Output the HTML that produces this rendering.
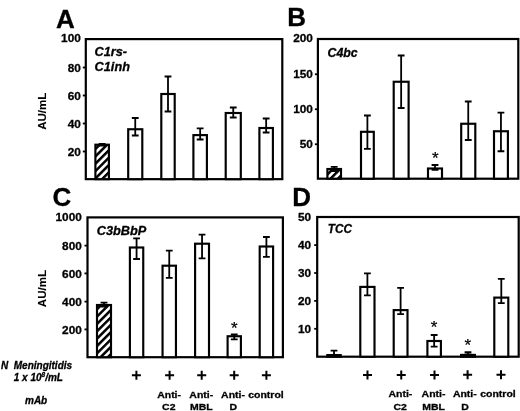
<!DOCTYPE html>
<html><head><meta charset="utf-8"><title>Figure</title>
<style>
html,body{margin:0;padding:0;background:#fff;}
body{width:520px;height:411px;overflow:hidden;font-family:"Liberation Sans", sans-serif;}
svg{display:block;filter:blur(0.3px);}
text{font-family:"Liberation Sans", sans-serif;fill:#000;stroke:#000;stroke-width:0.3px;}
.tk{font-size:11.8px;font-weight:bold;}
.ti{font-size:12px;font-weight:bold;font-style:italic;}
.lt{font-size:26px;font-weight:bold;}
.yl{font-size:11.5px;font-weight:bold;stroke-width:0.1px;}
.lb{font-size:9.8px;font-weight:bold;}
.bl{font-size:10px;font-weight:bold;font-style:italic;}
.st{font-size:17px;font-weight:normal;stroke-width:0.25px;}
</style></head>
<body>
<svg width="520" height="411" viewBox="0 0 520 411">
<defs>
<pattern id="hatch" patternUnits="userSpaceOnUse" width="5.2" height="5.2" patternTransform="rotate(45)">
<rect width="5.2" height="5.2" fill="#fff"/>
<rect width="2.5" height="5.2" fill="#000"/>
</pattern>
</defs>
<rect width="520" height="411" fill="#fff"/>
<rect x="85.8" y="39.1" width="196.5" height="140.05" fill="none" stroke="#000" stroke-width="2.2"/>
<text x="80.8" y="42.300000000000004" text-anchor="end" class="tk">100</text>
<line x1="82.8" y1="67.5" x2="85.8" y2="67.5" stroke="#000" stroke-width="1.8"/>
<text x="80.8" y="71.6" text-anchor="end" class="tk">80</text>
<line x1="82.8" y1="95.5" x2="85.8" y2="95.5" stroke="#000" stroke-width="1.8"/>
<text x="80.8" y="99.6" text-anchor="end" class="tk">60</text>
<line x1="82.8" y1="123.5" x2="85.8" y2="123.5" stroke="#000" stroke-width="1.8"/>
<text x="80.8" y="127.6" text-anchor="end" class="tk">40</text>
<line x1="82.8" y1="151.5" x2="85.8" y2="151.5" stroke="#000" stroke-width="1.8"/>
<text x="80.8" y="155.6" text-anchor="end" class="tk">20</text>
<rect x="95.4" y="144.7" width="13.5" height="34.45000000000002" fill="url(#hatch)" stroke="#000" stroke-width="2.15"/>
<path d="M98.75 143.8H105.55000000000001M102.15 143.8V145.5M98.75 145.5H105.55000000000001" stroke="#000" stroke-width="1.8" fill="none"/>
<rect x="128.2" y="129.25" width="14.100000000000023" height="49.900000000000006" fill="#fff" stroke="#000" stroke-width="2.15"/>
<path d="M131.85 118.0H138.65M135.25 118.0V135.5M131.85 135.5H138.65" stroke="#000" stroke-width="1.8" fill="none"/>
<rect x="161.3" y="94.0" width="13.399999999999977" height="85.15" fill="#fff" stroke="#000" stroke-width="2.15"/>
<path d="M164.6 76.5H171.4M168.0 76.5V111.5M164.6 111.5H171.4" stroke="#000" stroke-width="1.8" fill="none"/>
<rect x="193.4" y="135.1" width="13.5" height="44.05000000000001" fill="#fff" stroke="#000" stroke-width="2.15"/>
<path d="M196.75 128.3H203.55M200.15 128.3V139.5M196.75 139.5H203.55" stroke="#000" stroke-width="1.8" fill="none"/>
<rect x="225.7" y="113.0" width="15.100000000000023" height="66.15" fill="#fff" stroke="#000" stroke-width="2.15"/>
<path d="M229.85 107.5H236.65M233.25 107.5V117.5M229.85 117.5H236.65" stroke="#000" stroke-width="1.8" fill="none"/>
<rect x="259.4" y="128.0" width="13.5" height="51.150000000000006" fill="#fff" stroke="#000" stroke-width="2.15"/>
<path d="M262.75 118.5H269.54999999999995M266.15 118.5V132.5M262.75 132.5H269.54999999999995" stroke="#000" stroke-width="1.8" fill="none"/>
<text transform="translate(94.6 56.2) scale(1.06 1)" class="ti">C1rs-</text>
<text transform="translate(94.6 71) scale(1.06 1)" class="ti">C1inh</text>
<text x="56" y="28" class="lt">A</text>
<text transform="translate(46 111.3) rotate(-90)" text-anchor="middle" class="yl">AU/mL</text>
<rect x="317.9" y="39" width="200.39999999999998" height="139.7" fill="none" stroke="#000" stroke-width="2.2"/>
<text x="312.9" y="42.2" text-anchor="end" class="tk">200</text>
<line x1="314.9" y1="74.25" x2="317.9" y2="74.25" stroke="#000" stroke-width="1.8"/>
<text x="312.9" y="78.35" text-anchor="end" class="tk">150</text>
<line x1="314.9" y1="109.25" x2="317.9" y2="109.25" stroke="#000" stroke-width="1.8"/>
<text x="312.9" y="113.35" text-anchor="end" class="tk">100</text>
<line x1="314.9" y1="144.25" x2="317.9" y2="144.25" stroke="#000" stroke-width="1.8"/>
<text x="312.9" y="148.35" text-anchor="end" class="tk">50</text>
<rect x="327.4" y="169.0" width="13.600000000000023" height="9.699999999999989" fill="url(#hatch)" stroke="#000" stroke-width="2.15"/>
<path d="M330.8 166.9H337.59999999999997M334.2 166.9V171.0M330.8 171.0H337.59999999999997" stroke="#000" stroke-width="1.8" fill="none"/>
<rect x="361" y="131.8" width="12.800000000000011" height="46.89999999999998" fill="#fff" stroke="#000" stroke-width="2.15"/>
<path d="M364.0 115.5H370.79999999999995M367.4 115.5V148.8M364.0 148.8H370.79999999999995" stroke="#000" stroke-width="1.8" fill="none"/>
<rect x="393.7" y="81.75" width="14.900000000000034" height="96.94999999999999" fill="#fff" stroke="#000" stroke-width="2.15"/>
<path d="M397.75 55.5H404.54999999999995M401.15 55.5V108.0M397.75 108.0H404.54999999999995" stroke="#000" stroke-width="1.8" fill="none"/>
<rect x="428" y="168.5" width="14" height="10.199999999999989" fill="#fff" stroke="#000" stroke-width="2.15"/>
<path d="M431.6 165.0H438.4M435.0 165.0V169.8M431.6 169.8H438.4" stroke="#000" stroke-width="1.8" fill="none"/>
<rect x="461.2" y="123.75" width="14.100000000000023" height="54.94999999999999" fill="#fff" stroke="#000" stroke-width="2.15"/>
<path d="M464.85 101.5H471.65M468.25 101.5V140.0M464.85 140.0H471.65" stroke="#000" stroke-width="1.8" fill="none"/>
<rect x="494" y="131.25" width="13.899999999999977" height="47.44999999999999" fill="#fff" stroke="#000" stroke-width="2.15"/>
<path d="M497.55 112.7H504.34999999999997M500.95 112.7V151.25M497.55 151.25H504.34999999999997" stroke="#000" stroke-width="1.8" fill="none"/>
<text x="435.4" y="164.4" text-anchor="middle" class="st">*</text>
<text transform="translate(327.6 56.5) scale(1.025 1)" class="ti">C4bc</text>
<text x="287.3" y="26" class="lt">B</text>
<rect x="87.5" y="217.4" width="195.39999999999998" height="139.79999999999998" fill="none" stroke="#000" stroke-width="2.2"/>
<text x="81.8" y="220.6" text-anchor="end" class="tk">1000</text>
<line x1="84.5" y1="245.6" x2="87.5" y2="245.6" stroke="#000" stroke-width="1.8"/>
<text x="81.8" y="249.7" text-anchor="end" class="tk">800</text>
<line x1="84.5" y1="273.4" x2="87.5" y2="273.4" stroke="#000" stroke-width="1.8"/>
<text x="81.8" y="277.5" text-anchor="end" class="tk">600</text>
<line x1="84.5" y1="301.6" x2="87.5" y2="301.6" stroke="#000" stroke-width="1.8"/>
<text x="81.8" y="305.70000000000005" text-anchor="end" class="tk">400</text>
<line x1="84.5" y1="329.4" x2="87.5" y2="329.4" stroke="#000" stroke-width="1.8"/>
<text x="81.8" y="333.5" text-anchor="end" class="tk">200</text>
<rect x="97" y="305" width="14" height="52.19999999999999" fill="url(#hatch)" stroke="#000" stroke-width="2.15"/>
<path d="M100.6 302.6H107.4M104.0 302.6V306.5M100.6 306.5H107.4" stroke="#000" stroke-width="1.8" fill="none"/>
<rect x="129.9" y="247.5" width="13.349999999999994" height="109.69999999999999" fill="#fff" stroke="#000" stroke-width="2.15"/>
<path d="M133.17499999999998 238.4H139.975M136.575 238.4V259M133.17499999999998 259H139.975" stroke="#000" stroke-width="1.8" fill="none"/>
<rect x="162.55" y="265.7" width="13.399999999999977" height="91.5" fill="#fff" stroke="#000" stroke-width="2.15"/>
<path d="M165.85 250.6H172.65M169.25 250.6V277.8M165.85 277.8H172.65" stroke="#000" stroke-width="1.8" fill="none"/>
<rect x="195.1" y="243.7" width="13.900000000000006" height="113.5" fill="#fff" stroke="#000" stroke-width="2.15"/>
<path d="M198.65 234.6H205.45000000000002M202.05 234.6V258.4M198.65 258.4H205.45000000000002" stroke="#000" stroke-width="1.8" fill="none"/>
<rect x="227.6" y="336.25" width="13.300000000000011" height="20.94999999999999" fill="#fff" stroke="#000" stroke-width="2.15"/>
<path d="M230.85 334.5H237.65M234.25 334.5V339.3M230.85 339.3H237.65" stroke="#000" stroke-width="1.8" fill="none"/>
<rect x="259.7" y="246.5" width="13.400000000000034" height="110.69999999999999" fill="#fff" stroke="#000" stroke-width="2.15"/>
<path d="M263.0 237H269.79999999999995M266.4 237V256.9M263.0 256.9H269.79999999999995" stroke="#000" stroke-width="1.8" fill="none"/>
<text x="234.4" y="333.5" text-anchor="middle" class="st">*</text>
<text transform="translate(96.7 234.8) scale(1.06 1)" class="ti">C3bBbP</text>
<text x="52.6" y="205.8" class="lt">C</text>
<text transform="translate(46 288.6) rotate(-90)" text-anchor="middle" class="yl">AU/mL</text>
<rect x="317.2" y="217.0" width="201.50000000000006" height="139.7" fill="none" stroke="#000" stroke-width="2.2"/>
<text x="311.2" y="221.2" text-anchor="end" class="tk">50</text>
<line x1="314.2" y1="245.1" x2="317.2" y2="245.1" stroke="#000" stroke-width="1.8"/>
<text x="311.2" y="249.2" text-anchor="end" class="tk">40</text>
<line x1="314.2" y1="273" x2="317.2" y2="273" stroke="#000" stroke-width="1.8"/>
<text x="311.2" y="277.1" text-anchor="end" class="tk">30</text>
<line x1="314.2" y1="300.9" x2="317.2" y2="300.9" stroke="#000" stroke-width="1.8"/>
<text x="311.2" y="305.0" text-anchor="end" class="tk">20</text>
<line x1="314.2" y1="328.8" x2="317.2" y2="328.8" stroke="#000" stroke-width="1.8"/>
<text x="311.2" y="332.90000000000003" text-anchor="end" class="tk">10</text>
<rect x="327.3" y="355.1" width="13.399999999999977" height="1.599999999999966" fill="url(#hatch)" stroke="#000" stroke-width="2.15"/>
<path d="M330.6 350.7H337.4M334.0 350.7V355M330.6 355H337.4" stroke="#000" stroke-width="1.8" fill="none"/>
<rect x="360.3" y="286.9" width="14.199999999999989" height="69.80000000000001" fill="#fff" stroke="#000" stroke-width="2.15"/>
<path d="M364.0 273.4H370.79999999999995M367.4 273.4V295.3M364.0 295.3H370.79999999999995" stroke="#000" stroke-width="1.8" fill="none"/>
<rect x="393.7" y="310.1" width="13.800000000000011" height="46.599999999999966" fill="#fff" stroke="#000" stroke-width="2.15"/>
<path d="M397.20000000000005 287.9H404.0M400.6 287.9V314.2M397.20000000000005 314.2H404.0" stroke="#000" stroke-width="1.8" fill="none"/>
<rect x="427.4" y="341" width="13.5" height="15.699999999999989" fill="#fff" stroke="#000" stroke-width="2.15"/>
<path d="M430.75 335H437.54999999999995M434.15 335V346.7M430.75 346.7H437.54999999999995" stroke="#000" stroke-width="1.8" fill="none"/>
<rect x="461.1" y="354.9" width="13.799999999999955" height="1.8000000000000114" fill="#fff" stroke="#000" stroke-width="2.15"/>
<path d="M464.6 352.2H471.4M468.0 352.2V354.5M464.6 354.5H471.4" stroke="#000" stroke-width="1.8" fill="none"/>
<rect x="494.3" y="297.6" width="14.0" height="59.099999999999966" fill="#fff" stroke="#000" stroke-width="2.15"/>
<path d="M497.90000000000003 278.9H504.7M501.3 278.9V303.2M497.90000000000003 303.2H504.7" stroke="#000" stroke-width="1.8" fill="none"/>
<text x="434" y="332.8" text-anchor="middle" class="st">*</text>
<text x="467.7" y="350.7" text-anchor="middle" class="st">*</text>
<text transform="translate(327.8 233.4) scale(0.98 1)" class="ti">TCC</text>
<text x="292.3" y="206" class="lt">D</text>
<path d="M131.9 375.2H140.9M136.4 370.7V379.7" stroke="#000" stroke-width="2" fill="none"/>
<path d="M165.1 375.2H174.1M169.6 370.7V379.7" stroke="#000" stroke-width="2" fill="none"/>
<path d="M197.2 375.2H206.2M201.7 370.7V379.7" stroke="#000" stroke-width="2" fill="none"/>
<path d="M229.7 375.2H238.7M234.2 370.7V379.7" stroke="#000" stroke-width="2" fill="none"/>
<path d="M261.9 375.2H270.9M266.4 370.7V379.7" stroke="#000" stroke-width="2" fill="none"/>
<path d="M363.0 374.9H372.0M367.5 370.4V379.4" stroke="#000" stroke-width="2" fill="none"/>
<path d="M396.75 374.9H405.75M401.25 370.4V379.4" stroke="#000" stroke-width="2" fill="none"/>
<path d="M430.0 374.9H439.0M434.5 370.4V379.4" stroke="#000" stroke-width="2" fill="none"/>
<path d="M463.1 374.8H472.1M467.6 370.3V379.3" stroke="#000" stroke-width="2" fill="none"/>
<path d="M496.5 374.8H505.5M501.0 370.3V379.3" stroke="#000" stroke-width="2" fill="none"/>
<text transform="translate(169.1 397.8) scale(1.07 1)" text-anchor="middle" class="lb">Anti-</text>
<text transform="translate(168.79999999999998 410.4) scale(1.07 1)" text-anchor="middle" class="lb">C2</text>
<text transform="translate(400.4 397.3) scale(1.07 1)" text-anchor="middle" class="lb">Anti-</text>
<text transform="translate(400.09999999999997 409.9) scale(1.07 1)" text-anchor="middle" class="lb">C2</text>
<text transform="translate(201.25 397.8) scale(1.07 1)" text-anchor="middle" class="lb">Anti-</text>
<text transform="translate(201.25 410.4) scale(1.07 1)" text-anchor="middle" class="lb">MBL</text>
<text transform="translate(433.5 397.3) scale(1.07 1)" text-anchor="middle" class="lb">Anti-</text>
<text transform="translate(433.5 409.9) scale(1.07 1)" text-anchor="middle" class="lb">MBL</text>
<text transform="translate(233 397.8) scale(1.07 1)" text-anchor="middle" class="lb">Anti-</text>
<text transform="translate(233.2 410.4) scale(1.07 1)" text-anchor="middle" class="lb">D</text>
<text transform="translate(464.8 397.2) scale(1.07 1)" text-anchor="middle" class="lb">Anti-</text>
<text transform="translate(465.0 409.79999999999995) scale(1.07 1)" text-anchor="middle" class="lb">D</text>
<text transform="translate(266 397.8) scale(1.07 1)" text-anchor="middle" class="lb">control</text>
<text transform="translate(498 397.2) scale(1.07 1)" text-anchor="middle" class="lb">control</text>
<text x="1" y="368.5" class="bl">N</text>
<text x="13.75" y="368.5" class="bl">Meningitidis</text>
<text x="13.75" y="380.5" class="bl">1 x 10<tspan dy="-3.5" font-size="6.5">8</tspan><tspan dy="3.5">/mL</tspan></text>
<text x="25" y="404" class="bl">mAb</text>
</svg>
</body></html>
